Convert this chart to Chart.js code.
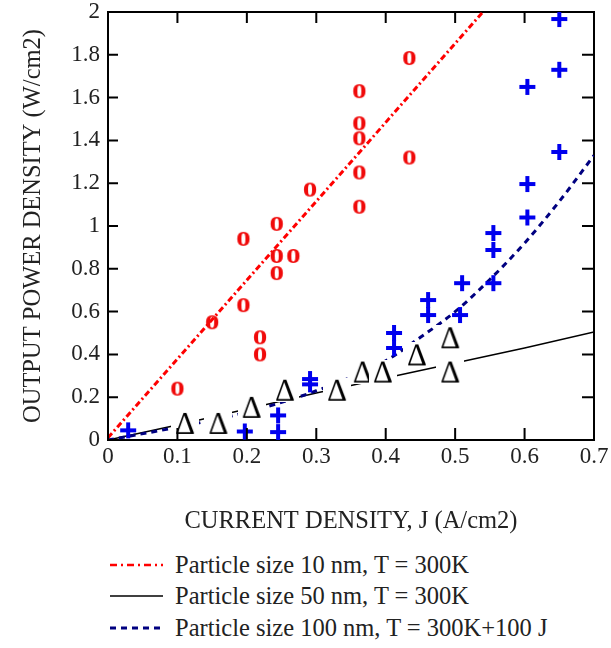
<!DOCTYPE html>
<html>
<head>
<meta charset="utf-8">
<script src="https://cdn.jsdelivr.net/npm/chart.js@4.4.1/dist/chart.umd.min.js"></script>
<style>
    body { margin: 0; background: #fff; }
    #wrap { position: relative; width: 611px; height: 648px; }
    #chart { position: absolute; left: 0; top: 0; }
    #legend { position: absolute; left: 110px; top: 549px; font: 24.5px "Liberation Serif", serif; color: #222; }
    .row { height: 31.5px; display: flex; align-items: center; white-space: nowrap; }
    .row svg { margin-right: 12px; }
</style>
</head>
<body>
<div id="wrap">
    <canvas id="chart" width="611" height="548"></canvas>
    <div id="legend">
        <div class="row"><svg width="53" height="10"><line x1="0" y1="5" x2="53" y2="5" stroke="#ff0000" stroke-width="2.5" stroke-dasharray="7 4 2 4"/></svg>Particle size 10 nm, T = 300K</div>
        <div class="row"><svg width="53" height="10"><line x1="0" y1="5" x2="53" y2="5" stroke="#000" stroke-width="1.5"/></svg>Particle size 50 nm, T = 300K</div>
        <div class="row"><svg width="53" height="10"><line x1="0" y1="5" x2="53" y2="5" stroke="#000080" stroke-width="3" stroke-dasharray="6 5"/></svg>Particle size 100 nm, T = 300K+100 J</div>
    </div>
</div>
<script>
// tick labels
const xTickLabels = ["0", "0.1", "0.2", "0.3", "0.4", "0.5", "0.6", "0.7"];
const yTickLabels = ["0", "0.2", "0.4", "0.6", "0.8", "1", "1.2", "1.4", "1.6", "1.8", "2"];

// model curves
const redLineX = [0, 0.54];
const redLineY = [0.01, 2.0];
const blackLineX = [0, 0.1, 0.2, 0.3, 0.4, 0.5, 0.6, 0.7];
const blackLineY = [0, 0.07, 0.145, 0.22, 0.29, 0.36, 0.43, 0.505];
const blueLineX = [0, 0.1, 0.2, 0.3, 0.4, 0.45, 0.5, 0.55, 0.6, 0.65, 0.7];
const blueLineY = [0, 0.06, 0.13, 0.23, 0.37, 0.48, 0.6, 0.75, 0.92, 1.115, 1.33];

// measured points (10 nm, circles)
const circleX = [0.1, 0.15, 0.195, 0.195, 0.219, 0.219, 0.243, 0.243, 0.243, 0.267, 0.291, 0.362, 0.362, 0.362, 0.362, 0.362, 0.434, 0.434];
const circleY = [0.24, 0.55, 0.63, 0.94, 0.48, 0.40, 1.01, 0.86, 0.78, 0.86, 1.17, 1.63, 1.48, 1.41, 1.25, 1.09, 1.785, 1.32];

// measured points (50 nm, triangles)
const triX = [0.111, 0.159, 0.207, 0.255, 0.33, 0.367, 0.396, 0.445, 0.493, 0.493];
const triY = [0.08, 0.08, 0.155, 0.235, 0.235, 0.32, 0.32, 0.40, 0.48, 0.32];

// measured points (100 nm, crosses)
const crossX = [0.029, 0.197, 0.245, 0.245, 0.291, 0.291, 0.412, 0.412, 0.461, 0.461, 0.51, 0.507, 0.555, 0.555, 0.555, 0.604, 0.604, 0.604, 0.65, 0.65, 0.65];
const crossY = [0.045, 0.04, 0.115, 0.037, 0.285, 0.26, 0.50, 0.43, 0.654, 0.584, 0.733, 0.584, 0.967, 0.888, 0.733, 1.04, 1.196, 1.65, 1.346, 1.73, 1.967];

function pts(xs, ys) {
    return xs.map((x, i) => ({ x: x, y: ys[i] }));
}

// small glyph images used as point styles
function glyph(ch, font, color, w, h, bg) {
    const c = document.createElement("canvas");
    c.width = w;
    c.height = h;
    const ctx = c.getContext("2d");
    if (bg) {
        ctx.fillStyle = bg;
        ctx.fillRect(0, 0, w, h);
    }
    ctx.font = font;
    ctx.fillStyle = color;
    ctx.textAlign = "center";
    ctx.textBaseline = "alphabetic";
    const m = ctx.measureText(ch);
    const yy = h / 2 + (m.actualBoundingBoxAscent - m.actualBoundingBoxDescent) / 2;
    ctx.fillText(ch, w / 2, yy);
    return c;
}

function crossImg() {
    const c = document.createElement("canvas");
    c.width = 18;
    c.height = 18;
    const ctx = c.getContext("2d");
    ctx.strokeStyle = "#0000ee";
    ctx.lineWidth = 4;
    ctx.beginPath();
    ctx.moveTo(1, 9);
    ctx.lineTo(17, 9);
    ctx.moveTo(9, 1);
    ctx.lineTo(9, 17);
    ctx.stroke();
    return c;
}

const circleImg = glyph("o", "bold 29px 'Liberation Serif'", "#f00a0a", 20, 20);
const triImg = glyph("\u0394", "31px 'Liberation Serif'", "#000", 28, 24, "#fff");

const serif = "'Liberation Serif', serif";

// fixed box sizes, no extra padding from tick labels
function fixSize(w, h) {
    return (s) => {
        if (w !== null) s.width = w;
        if (h !== null) s.height = h;
        s.paddingLeft = 0;
        s.paddingRight = 0;
        s.paddingTop = 0;
        s.paddingBottom = 0;
    };
}

// tick marks pointing into the plot, on all four sides
const innerTicks = {
    id: "innerTicks",
    afterDraw(chart) {
        const ctx = chart.ctx;
        const a = chart.chartArea;
        ctx.save();
        ctx.setLineDash([]);
        ctx.strokeStyle = "#000";
        ctx.lineWidth = 2;
        ctx.beginPath();
        Object.values(chart.scales).forEach((s) => {
            s.ticks.forEach((t) => {
                const p = s.getPixelForValue(t.value);
                if (s.position === "bottom") { ctx.moveTo(p, a.bottom); ctx.lineTo(p, a.bottom - 12); }
                if (s.position === "top") { ctx.moveTo(p, a.top); ctx.lineTo(p, a.top + 11); }
                if (s.position === "left") { ctx.moveTo(a.left, p); ctx.lineTo(a.left + 10, p); }
                if (s.position === "right") { ctx.moveTo(a.right, p); ctx.lineTo(a.right - 12, p); }
            });
        });
        ctx.stroke();
        ctx.restore();
    },
};

new Chart(document.getElementById("chart"), {
    type: "scatter",
    data: {
        datasets: [
            {
                data: pts(redLineX, redLineY),
                showLine: true,
                pointRadius: 0,
                borderColor: "#ff0000",
                borderWidth: 3,
                borderDash: [6, 3, 2, 3],
                order: 5,
            },
            {
                data: pts(blackLineX, blackLineY),
                showLine: true,
                pointRadius: 0,
                borderColor: "#000",
                borderWidth: 1.5,
                order: 4,
            },
            {
                data: pts(blueLineX, blueLineY),
                showLine: true,
                pointRadius: 0,
                borderColor: "#000080",
                borderWidth: 3,
                borderDash: [6, 5],
                cubicInterpolationMode: "monotone",
                order: 3,
            },
            {
                data: pts(triX, triY),
                pointStyle: triImg,
                order: 2,
            },
            {
                data: pts(circleX, circleY),
                pointStyle: circleImg,
                order: 1,
            },
            {
                data: pts(crossX, crossY),
                pointStyle: crossImg(),
                order: 0,
            },
        ],
    },
    options: {
        responsive: false,
        animation: false,
        events: [],
        layout: { padding: 0, autoPadding: false },
        plugins: {
            legend: { display: false },
            tooltip: { enabled: false },
        },
        scales: {
            x: {
                type: "linear",
                position: "bottom",
                min: 0,
                max: 0.7,
                afterFit: fixSize(null, 108),
                ticks: {
                    stepSize: 0.1,
                    padding: 3,
                    color: "#222",
                    font: { family: serif, size: 23 },
                    callback: (v) => xTickLabels[Math.round(v * 10)],
                },
                grid: { drawOnChartArea: false, drawTicks: false },
                border: { color: "#000", width: 2 },
                title: {
                    display: true,
                    text: "CURRENT DENSITY, J (A/cm2)",
                    color: "#222",
                    font: { family: serif, size: 24.5, weight: "normal" },
                    padding: { top: 0, bottom: 12 },
                },
            },
            x2: {
                type: "linear",
                position: "top",
                min: 0,
                max: 0.7,
                afterFit: fixSize(null, 12),
                ticks: { stepSize: 0.1, display: false },
                grid: { drawOnChartArea: false, drawTicks: false },
                border: { color: "#000", width: 2 },
            },
            y: {
                type: "linear",
                position: "left",
                min: 0,
                max: 2,
                afterFit: fixSize(108, null),
                ticks: {
                    stepSize: 0.2,
                    padding: 8,
                    color: "#222",
                    font: { family: serif, size: 23 },
                    callback: (v) => yTickLabels[Math.round(v * 5)],
                },
                grid: { drawOnChartArea: false, drawTicks: false },
                border: { color: "#000", width: 2 },
                title: {
                    display: true,
                    text: "OUTPUT POWER DENSITY (W/cm2)",
                    color: "#222",
                    font: { family: serif, size: 24.5, weight: "normal" },
                    padding: { top: 19, bottom: 0 },
                },
            },
            y2: {
                type: "linear",
                position: "right",
                min: 0,
                max: 2,
                afterFit: fixSize(17, null),
                ticks: { stepSize: 0.2, display: false },
                grid: { drawOnChartArea: false, drawTicks: false },
                border: { color: "#000", width: 2 },
            },
        },
    },
    plugins: [innerTicks],
});
</script>
</body>
</html>
